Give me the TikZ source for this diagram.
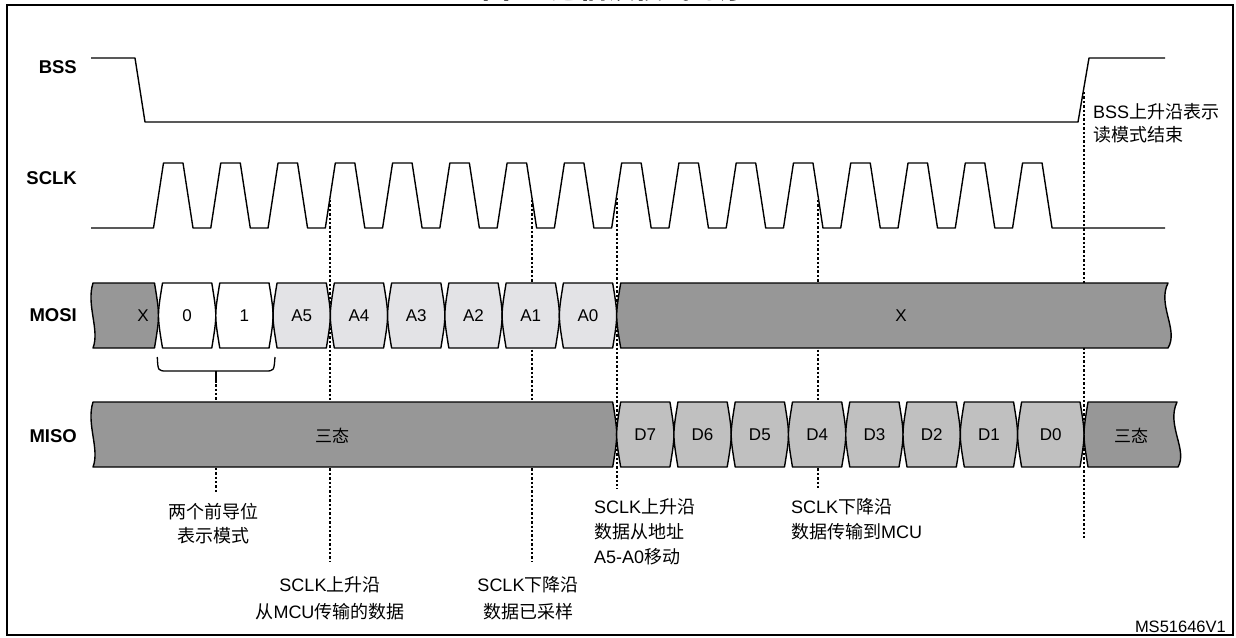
\documentclass[tikz,border=0pt]{standalone}
\usepackage{fontspec}
\setmainfont{Liberation Sans}
\newfontfamily\cjk{Noto Sans CJK SC}
\newcommand\zh[1]{{\cjk #1}}
\definecolor{darkfill}{HTML}{979797}
\definecolor{lightfill}{HTML}{E3E3E6}
\definecolor{midfill}{HTML}{C0C0C0}
\tikzset{
  wave/.style={line width=1.4pt, line join=round},
  busline/.style={line width=1.4pt, line join=round},
  guide/.style={line width=1.9pt, dash pattern=on 2.4pt off 2pt},
  signame/.style={font=\fontsize{18.5}{22}\selectfont\bfseries, anchor=east, inner sep=0pt},
  celltxt/.style={font=\fontsize{17}{20}\selectfont, inner sep=0pt},
  frame/.style={line width=2pt},
}
% hexagonal bus cell with curved sides: xa xb top bot fill
\newcommand\hexcell[5]{%
  \filldraw[busline, fill=#5] ({#1+4},#4) .. controls ({#1-1.33},{(#3+#4)/2}) .. ({#1+4},#3)
    -- ({#2-4},#3) .. controls ({#2+1.33},{(#3+#4)/2}) .. ({#2-4},#4) -- cycle;
}
\begin{document}
\begin{tikzpicture}[x=1pt,y=-1pt]
\useasboundingbox (0,0) rectangle (1236,637);
% frame and (cut) title
\node[anchor=base, inner sep=0pt, font=\fontsize{28}{30}\selectfont\bfseries] (title) at (615,-1.5) {\zh{图} 6. \zh{通信读模式时序}};
\draw[frame] (7,5) rectangle (1233,634.5);

% signal names
\node[signame] (bss)  at (77,67)    {BSS};
\node[signame] (sclk) at (77,178)   {SCLK};
\node[signame] (mosi) at (77,315.5) {MOSI};
\node[signame] (miso) at (77,436)   {MISO};

% guide coordinates
\coordinate (g0t) at (216,371);   \coordinate (g0b) at (216,493);
\coordinate (g1t) at (330.3,200); \coordinate (g1b) at (330.3,562);
\coordinate (g2t) at (531.6,200); \coordinate (g2b) at (531.6,562);
\coordinate (g3t) at (616.7,198); \coordinate (g3b) at (616.7,489);
\coordinate (g4t) at (818,200);   \coordinate (g4b) at (818,489);
\coordinate (g5t) at (1084,92);   \coordinate (g5b) at (1084,538);

% dotted guides (behind the buses)
\draw[guide] (g0t) -- (g0b);
\draw[guide] (g1t) -- (g1b);
\draw[guide] (g2t) -- (g2b);
\draw[guide] (g3t) -- (g3b);
\draw[guide] (g4t) -- (g4b);
\draw[guide] (g5t) -- (g5b);

% BSS
\draw[wave] (91,58) -- (135,58) -- (145,122) -- (1078,122) -- (1089,58) -- (1165,58);

% SCLK
\draw[wave] (91,228) foreach \k in {0,...,15} {
   -- ({153.5+57.27*\k},228) -- ({163.5+57.27*\k},163)
   -- ({183+57.27*\k},163) -- ({193+57.27*\k},228) } -- (1165,228);

% MOSI bus
\filldraw[busline, fill=darkfill] (93,348) .. controls (100,330) and (86,305) .. (93,283)
   -- (154.5,283) .. controls (159.8,315.5) .. (154.5,348) -- cycle;
\node[celltxt] (mosix) at (143,315.5) {X};
\foreach \i/\t/\f in {0/0/white,1/1/white,2/A5/lightfill,3/A4/lightfill,4/A3/lightfill,5/A2/lightfill,6/A1/lightfill,7/A0/lightfill}{
  \pgfmathsetmacro\xa{158.5+57.27*\i}
  \pgfmathsetmacro\xb{158.5+57.27*(\i+1)}
  \hexcell{\xa}{\xb}{283}{348}{\f}
  \node[celltxt] (mosi\i) at ({(\xa+\xb)/2},315.5) {\t};
}
\filldraw[busline, fill=darkfill] (620.7,348) .. controls (615.4,315.5) .. (620.7,283)
   -- (1168,283) .. controls (1157,305) and (1179,330) .. (1168,348) -- cycle;
\node[celltxt] (mosixx) at (901,315.5) {X};

% brace under the two leading bits
\draw[line width=1.3pt] (157.3,357) .. controls (158,371) .. (167,371) -- (265,371)
   .. controls (274,371) .. (275,357);
\draw[line width=1.3pt] (216,371) -- (216,383);

% MISO bus
\filldraw[busline, fill=darkfill] (93,467) .. controls (100,449) and (86,424) .. (93,402)
   -- (612.7,402) .. controls (618,434.5) .. (612.7,467) -- cycle;
\node[celltxt] (misoz) at (332,436) {\zh{三态}};
\foreach \i/\t in {8/D7,9/D6,10/D5,11/D4,12/D3,13/D2,14/D1}{
  \pgfmathsetmacro\xa{158.5+57.27*\i}
  \pgfmathsetmacro\xb{158.5+57.27*(\i+1)}
  \hexcell{\xa}{\xb}{402}{467}{midfill}
  \node[celltxt] (miso\i) at ({(\xa+\xb)/2},434.5) {\t};
}
\hexcell{1017.6}{1084}{402}{467}{midfill}
\node[celltxt] (miso15) at (1050.8,434.5) {D0};
\filldraw[busline, fill=darkfill] (1088,467) .. controls (1082.7,434.5) .. (1088,402)
   -- (1177,402) .. controls (1166,425) and (1188,450) .. (1178,467) -- cycle;
\node[celltxt] (misozz) at (1131,436) {\zh{三态}};

% notes
\node[inner sep=0pt, align=center, font=\fontsize{18}{23.3}\selectfont] (n0) at (213,523.5)
   {\zh{两个前导位}\\\zh{表示模式}};
\node[inner sep=0pt, align=center, font=\fontsize{18}{26.7}\selectfont] (n1) at (330,598.5)
   {SCLK\zh{上升沿}\\\zh{从}MCU\zh{传输的数据}};
\node[inner sep=0pt, align=center, font=\fontsize{18}{26.7}\selectfont] (n2) at (528,598.5)
   {SCLK\zh{下降沿}\\\zh{数据已采样}};
\node[inner sep=0pt, align=left, anchor=west, font=\fontsize{18}{25}\selectfont] (n3) at (594,532)
   {SCLK\zh{上升沿}\\\zh{数据从地址}\\A5-A0\zh{移动}};
\node[inner sep=0pt, align=left, anchor=west, font=\fontsize{18}{25}\selectfont] (n4) at (791,519.5)
   {SCLK\zh{下降沿}\\\zh{数据传输到}MCU};
\node[inner sep=0pt, align=left, anchor=west, font=\fontsize{18}{23.3}\selectfont] (n5) at (1093,123.5)
   {BSS\zh{上升沿表示}\\\zh{读模式结束}};
\node[inner sep=0pt, anchor=east, font=\fontsize{16.5}{20}\selectfont] (code) at (1226,627) {MS51646V1};
\end{tikzpicture}
\end{document}
